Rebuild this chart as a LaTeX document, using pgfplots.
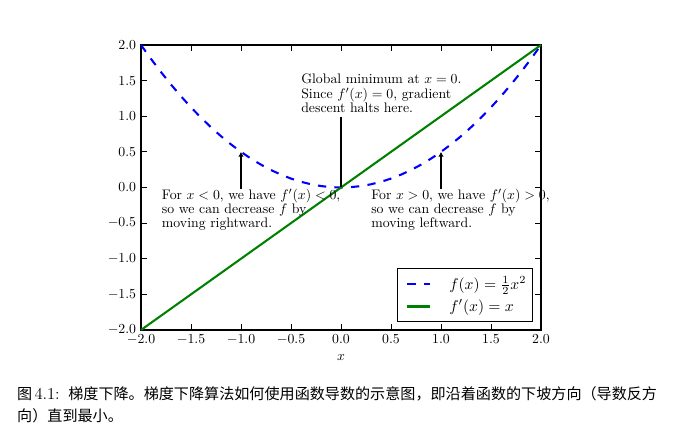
\documentclass[border=0pt]{standalone}
\usepackage{fontspec}
\usepackage{graphicx}
\newfontfamily\cjk{Noto Sans CJK SC}
\usepackage{pgfplots}
\pgfplotsset{compat=1.18}
\usetikzlibrary{arrows.meta}
\definecolor{mplgreen}{rgb}{0,0.5,0}
\begin{document}
\begin{tikzpicture}
\path[use as bounding box] (0,0) rectangle (504.35pt,323.19pt);
\begin{axis}[
  at={(102.17pt,84.06pt)}, anchor=south west,
  scale only axis, width=289.86pt, height=206.52pt,
  xmin=-2, xmax=2, ymin=-2, ymax=2,
  xtick={-2,-1.5,...,2}, ytick={-2,-1.5,...,2},
  tick align=inside, tick pos=both, major tick length=4pt,
  every tick/.style={black, line width=0.6pt},
  axis line style={line width=1pt},
  xticklabel style={/pgf/number format/.cd, fixed, fixed zerofill, precision=1},
  yticklabel style={/pgf/number format/.cd, fixed, fixed zerofill, precision=1},
  xlabel={$x$},
  legend style={at={(rel axis cs:1,0)}, anchor=south east, xshift=-5.8pt, yshift=5.8pt,
    draw=black, line width=1pt, inner xsep=0pt, inner ysep=4.2pt, row sep=3pt,
    nodes={inner xsep=0pt, inner ysep=1.5pt}},
  legend image code/.code={\draw[#1] (7.2pt,0pt) -- (23.9pt,0pt); \path[draw=none] (0pt,0pt) -- (37.7pt,0pt);},
  legend cell align=left,
  clip=false,
]
\addplot[blue, line width=1.5pt, dash pattern=on 6pt off 6pt] coordinates {
(-2.0,2.0) (-1.9,1.805) (-1.8,1.62) (-1.7,1.445) (-1.6,1.28) (-1.5,1.125)
(-1.4,0.98) (-1.3,0.845) (-1.2,0.72) (-1.1,0.605) (-1.0,0.5) (-0.9,0.405)
(-0.8,0.32) (-0.7,0.245) (-0.6,0.18) (-0.5,0.125) (-0.4,0.08) (-0.3,0.045)
(-0.2,0.02) (-0.1,0.005) (0,0) (0.1,0.005) (0.2,0.02) (0.3,0.045) (0.4,0.08)
(0.5,0.125) (0.6,0.18) (0.7,0.245) (0.8,0.32) (0.9,0.405) (1.0,0.5)
(1.1,0.605) (1.2,0.72) (1.3,0.845) (1.4,0.98) (1.5,1.125) (1.6,1.28)
(1.7,1.445) (1.8,1.62) (1.9,1.805) (2.0,2.0)};
\addlegendentry{\scalebox{1.13}{$f(x)=\frac{1}{2}x^2$}\kern4.3pt}
\addplot[mplgreen, line width=1.5pt] coordinates {(-2,-2) (2,2)};
\addlegendentry{\scalebox{1.13}{$f'(x)=x$}}
\draw[line width=1.5pt, -{Latex[length=3.5pt,width=4pt]}] (axis cs:-1,-0.02) -- (axis cs:-1,0.5);
\draw[line width=1.5pt] (axis cs:0,0.994) -- (axis cs:0,0);
\draw[line width=1.5pt, -{Latex[length=3.5pt,width=4pt]}] (axis cs:1,-0.02) -- (axis cs:1,0.5);
\node[anchor=base west, inner sep=0] at (axis cs:-0.40,1.453) {Global minimum at $x=0$.};
\node[anchor=base west, inner sep=0] at (axis cs:-0.40,1.249) {Since $f'(x)=0$, gradient};
\node[anchor=base west, inner sep=0] at (axis cs:-0.40,1.046) {descent halts here.};
\node[anchor=base west, inner sep=0] at (axis cs:-1.793,-0.175) {For $x<0$, we have $f'(x)<0$,};
\node[anchor=base west, inner sep=0] at (axis cs:-1.793,-0.372) {so we can decrease $f$ by};
\node[anchor=base west, inner sep=0] at (axis cs:-1.793,-0.568) {moving rightward.};
\node[anchor=base west, inner sep=0] at (axis cs:0.30,-0.175) {For $x>0$, we have $f'(x)>0$,};
\node[anchor=base west, inner sep=0] at (axis cs:0.30,-0.372) {so we can decrease $f$ by};
\node[anchor=base west, inner sep=0] at (axis cs:0.30,-0.568) {moving leftward.};
\end{axis}
\node[anchor=base west, inner sep=0, font=\cjk\fontsize{10.94}{13}\selectfont] at (12.3pt,33.33pt) {图};
\node[anchor=base west, inner sep=0, font=\fontsize{12}{14}\selectfont] at (24.8pt,33.33pt) {4.1:};
\node[anchor=base west, inner sep=0, font=\cjk\fontsize{10.94}{13}\selectfont] at (49.3pt,33.33pt) {梯度下降。梯度下降算法如何使用函数导数的示意图，即沿着函数的下坡方向（导数反方};
\node[anchor=base west, inner sep=0, font=\cjk\fontsize{10.94}{13}\selectfont] at (12.3pt,17.4pt) {向）直到最小。};
\end{tikzpicture}
\end{document}
